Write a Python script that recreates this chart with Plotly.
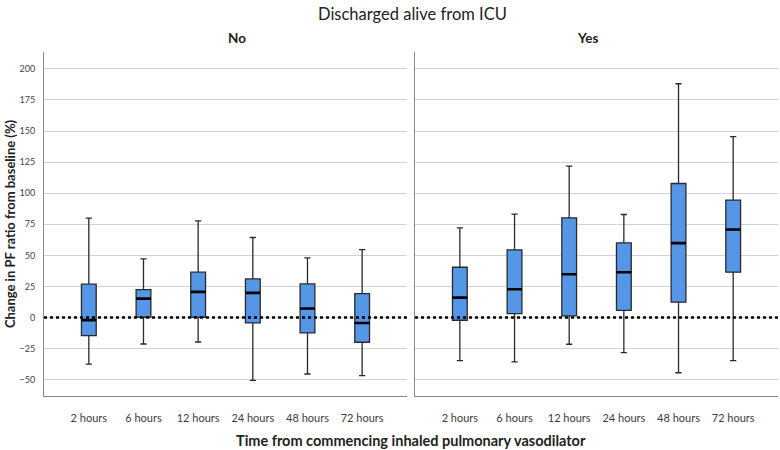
import plotly.graph_objects as go
from plotly.subplots import make_subplots

categories = ["2 hours", "6 hours", "12 hours", "24 hours", "48 hours", "72 hours"]
panels = ["No", "Yes"]

# Left panel: Discharged alive = No
no_lower = [-37.3, -21.2, -19.6, -50.4, -45.3, -46.6]
no_q1 = [-14.5, 0.3, 0.3, -4.3, -12.3, -19.8]
no_median = [-2.0, 15.3, 20.7, 19.9, 7.3, -4.3]
no_q3 = [26.9, 22.5, 36.5, 31.1, 27.1, 19.3]
no_upper = [80.0, 47.2, 77.8, 64.4, 48.0, 54.7]

# Right panel: Discharged alive = Yes
yes_lower = [-34.6, -35.6, -21.4, -28.2, -44.3, -34.6]
yes_q1 = [-2.1, 3.2, 1.4, 5.9, 12.4, 36.5]
yes_median = [16.1, 22.8, 34.9, 36.5, 59.9, 70.8]
yes_q3 = [40.5, 54.5, 80.2, 60.1, 107.8, 94.5]
yes_upper = [72.2, 83.2, 121.8, 82.9, 188.0, 145.4]

y_ticks = [-50, -25, 0, 25, 50, 75, 100, 125, 150, 175, 200]

FONT = "Lato"
BOX_FILL = "#5596E6"
BOX_LINE = "#2a2a2a"
BOX_W = 0.27

FIG_W, FIG_H = 780, 450
M_L, M_R, M_T, M_B = 44, 2, 52, 54

fig = make_subplots(rows=1, cols=2, shared_yaxes=True, horizontal_spacing=0.011)

data = [
    (no_lower, no_q1, no_median, no_q3, no_upper),
    (yes_lower, yes_q1, yes_median, yes_q3, yes_upper),
]

for i, (lo, q1, med, q3, up) in enumerate(data):
    col = i + 1
    fig.add_trace(go.Box(
        x=categories, q1=q1, median=med, q3=q3, lowerfence=lo, upperfence=up,
        fillcolor=BOX_FILL, line=dict(color=BOX_LINE, width=1.3),
        whiskerwidth=0.42, width=BOX_W, boxpoints=False, showlegend=False,
        name=panels[i],
    ), row=1, col=col)
    # thick median bar
    fig.add_trace(go.Box(
        x=categories, q1=med, median=med, q3=med, lowerfence=med, upperfence=med,
        fillcolor="rgba(0,0,0,0)", line=dict(color="black", width=2.6),
        whiskerwidth=0, width=BOX_W, boxpoints=False, showlegend=False,
        hoverinfo="skip", name=panels[i] + " median",
    ), row=1, col=col)
    xref = "x domain" if col == 1 else "x2 domain"
    yref = "y" if col == 1 else "y2"
    fig.add_shape(type="line", xref=xref, yref=yref, x0=0, x1=1, y0=0, y1=0,
                  line=dict(color="black", width=2.5, dash="dot"), layer="above")

axis_common = dict(showline=True, linecolor="#8a8a8a", linewidth=1, mirror=False,
                   automargin=False)
for col in (1, 2):
    fig.update_xaxes(
        type="category", range=[-0.82, 5.82], showgrid=False,
        tickfont=dict(family=FONT, size=11, color="#3c3c3c"),
        ticks="", ticklabelstandoff=12, **axis_common, row=1, col=col,
    )
    fig.update_yaxes(
        range=[-63, 213.5], tickvals=y_ticks, showgrid=True,
        gridcolor="#d2d2d2", gridwidth=1, zeroline=False, ticks="",
        tickfont=dict(family=FONT, size=9, color="#444444"),
        ticklabelstandoff=6, **axis_common, row=1, col=col,
    )

fig.update_yaxes(
    title=dict(text="<b>Change in PF ratio from baseline (%)</b>",
               font=dict(family=FONT, size=13, color="#222222"), standoff=0),
    row=1, col=1,
)

fig.update_layout(
    width=FIG_W, height=FIG_H,
    margin=dict(l=M_L, r=M_R, t=M_T, b=M_B),
    plot_bgcolor="white", paper_bgcolor="white",
    boxmode="overlay", showlegend=False,
    font=dict(family=FONT, color="#222222"),
)

plot_h = FIG_H - M_T - M_B
plot_w = FIG_W - M_L - M_R


def py(pix):
    return (FIG_H - M_B - pix) / plot_h


def px(pix):
    return (pix - M_L) / plot_w


fig.add_annotation(text="Discharged alive from ICU", x=px(412), xref="paper", y=py(14),
                   yref="paper", showarrow=False, yanchor="middle",
                   font=dict(family=FONT, size=16.5, color="#222222"))
fig.add_annotation(text="<b>No</b>", x=px(226), xref="paper", y=py(38), yref="paper",
                   showarrow=False, yanchor="middle",
                   font=dict(family=FONT, size=13.5, color="#222222"))
fig.add_annotation(text="<b>Yes</b>", x=px(600), xref="paper", y=py(38), yref="paper",
                   showarrow=False, yanchor="middle",
                   font=dict(family=FONT, size=13.5, color="#222222"))
fig.add_annotation(text="<b>Time from commencing inhaled pulmonary vasodilator</b>",
                   x=px(411), xref="paper", y=py(440), yref="paper", showarrow=False,
                   yanchor="middle", font=dict(family=FONT, size=14.5, color="#222222"))

# remove the browser's default 8px body margin so the figure fills the window
fig.write_html("out.html", config={"displayModeBar": False},
               post_script="document.body.style.margin='0px';")
